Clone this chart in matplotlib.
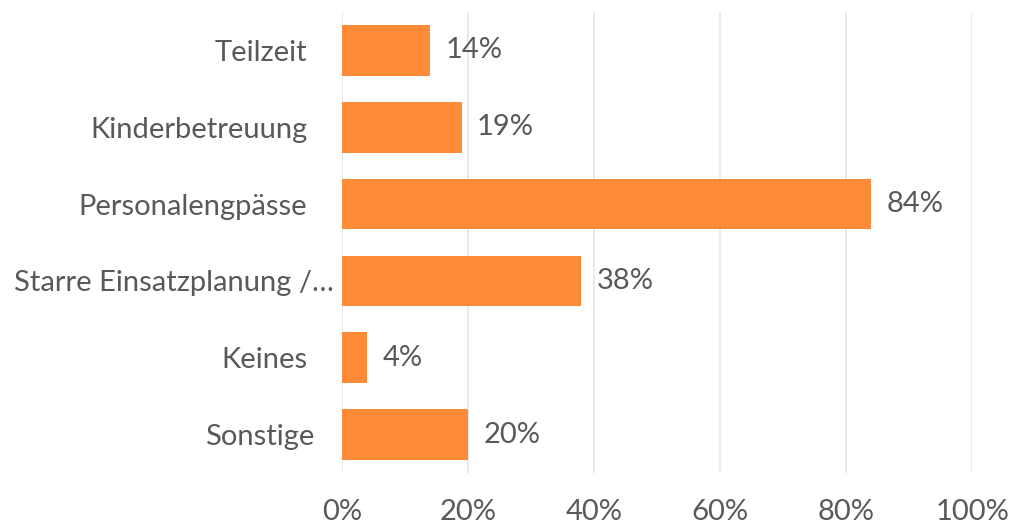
import matplotlib
matplotlib.use("Agg")
import matplotlib.pyplot as plt
from matplotlib.ticker import PercentFormatter
from matplotlib.transforms import ScaledTranslation

categories = ["Teilzeit", "Kinderbetreuung", "Personalengpässe",
              "Starre Einsatzplanung /…", "Keines", "Sonstige"]
values = [14, 19, 84, 38, 4, 20]

bar_color = "#FF8B38"
text_color = "#595959"

plt.rcParams['font.family'] = ['Lato', 'DejaVu Sans']

fig = plt.figure(figsize=(10.13, 5.29), dpi=100)
ax = fig.add_axes([0.3376, 0.1059, 0.622, 0.8714])

pos = list(range(len(categories)))
ax.barh(pos, values, height=0.66, color=bar_color, zorder=3)
ax.set_ylim(len(categories) - 0.5, -0.5)
ax.set_xlim(0, 100)

for p, v in zip(pos, values):
    ax.annotate(f"{v}%", (v, p), xytext=(11, 0), textcoords="offset points",
                va="center", ha="left", fontsize=21, color=text_color)

ax.set_yticks(pos)
ax.set_yticklabels(categories, fontsize=21, color=text_color)
ax.set_xticks(range(0, 101, 20))
ax.xaxis.set_major_formatter(PercentFormatter(decimals=0))
ax.tick_params(axis="x", labelsize=21, labelcolor=text_color, length=0, pad=19)
ax.tick_params(axis="y", length=0, pad=25)

# excel puts a couple of the labels a bit closer to the axis
shift = {"Starre Einsatzplanung /…": 0.27, "Sonstige": 0.07}
for lab in ax.get_yticklabels():
    dx = shift.get(lab.get_text(), 0)
    if dx:
        lab.set_transform(lab.get_transform() + ScaledTranslation(dx, 0, fig.dpi_scale_trans))

ax.grid(axis="x", color="#E6E6E6", linewidth=1.2, zorder=0)
for s in ax.spines.values():
    s.set_visible(False)

fig.savefig("out.png", dpi=100)
